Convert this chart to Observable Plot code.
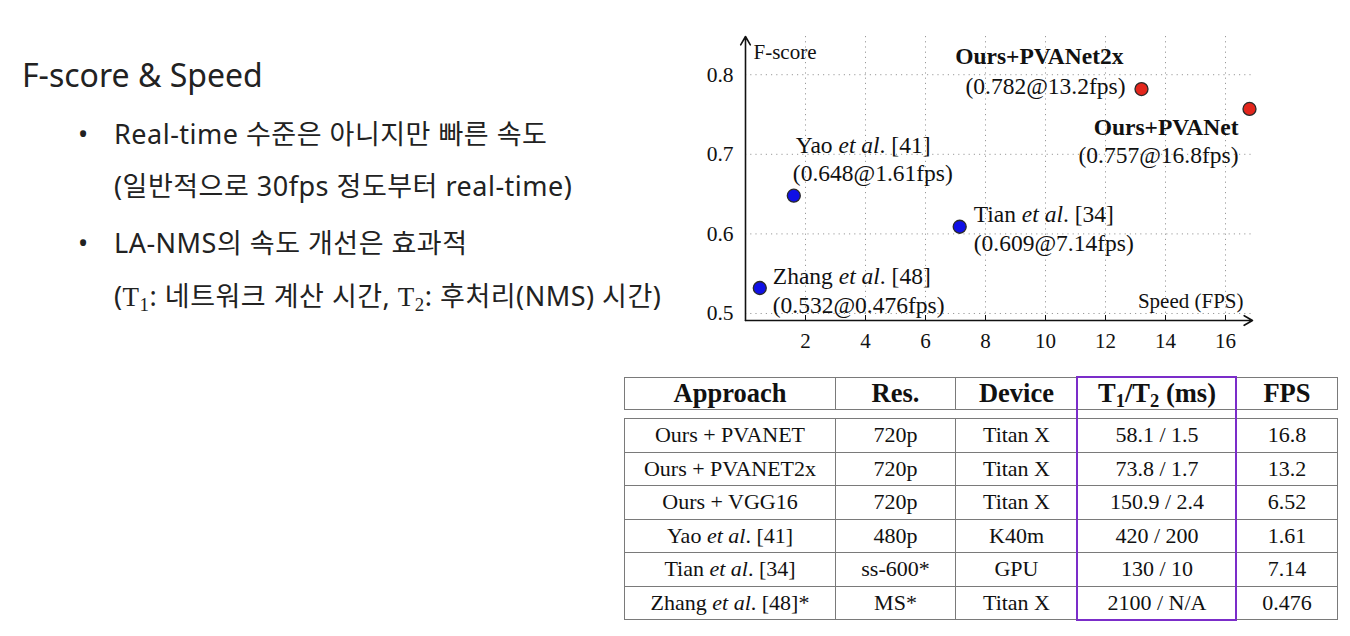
<!DOCTYPE html>
<html>
<head>
<meta charset="utf-8">
<script src="https://cdn.jsdelivr.net/npm/d3@7"></script>
<script src="https://cdn.jsdelivr.net/npm/@observablehq/plot@0.6"></script>
<style>
  html, body { margin: 0; padding: 0; background: #fff; width: 1350px; height: 636px; overflow: hidden; }
  .abs { position: absolute; white-space: nowrap; }
  .sans { font-family: "Noto Sans", "Noto Sans CJK KR", sans-serif; color: #222; }
  .title { left: 22px; top: 55px; font-size: 32px; line-height: 40px; }
  .bul { font-size: 27px; line-height: 34px; letter-spacing: 0.5px; }
  .serif { font-family: "Liberation Serif", serif; }
  .sb { font-size: 0.7em; vertical-align: baseline; position: relative; top: 0.28em; line-height: 0; }
  #chart { position: absolute; left: 690px; top: 30px; }
  table.t { position: absolute; border-collapse: collapse; font-family: "Liberation Serif", serif; color: #111; table-layout: fixed; }
  table.t td { border: 1.5px solid #7a7a7a; text-align: center; padding: 0; overflow: visible; white-space: nowrap; }
  #purple { position: absolute; left: 1076px; top: 376px; width: 157px; height: 241px; border: 2.5px solid #7b2dc9; }
</style>
</head>
<body>
<div class="abs sans title">F-score &amp; Speed</div>
<div id="bullets"></div>
<div id="chart"></div>
<div id="tables"></div>
<div id="purple"></div>
<script>
// ---------- chart data ----------
const methods = ["Ours+PVANet2x", "Ours+PVANet", "Tian et al. [34]", "Yao et al. [41]", "Zhang et al. [48]"];
const speeds = [13.2, 16.8, 7.14, 1.61, 0.476];
const fscores = [0.782, 0.757, 0.609, 0.648, 0.532];
const ours = [true, true, false, false, false];
const xTicks = [2, 4, 6, 8, 10, 12, 14, 16];
const yTicks = [0.5, 0.6, 0.7, 0.8];
const xDomain = [0, 16.9];
const yDomain = [0.4912, 0.848];
const xLabel = "Speed (FPS)";
const yLabel = "F-score";

// ---------- table data ----------
const tHeader = ["Approach", "Res.", "Device", "T<sub class='sb'>1</sub>/T<sub class='sb'>2</sub> (ms)", "FPS"];
const tApproach = ["Ours + PVANET", "Ours + PVANET2x", "Ours + VGG16", "Yao et al. [41]", "Tian et al. [34]", "Zhang et al. [48]*"];
const tRes = ["720p", "720p", "720p", "480p", "ss-600*", "MS*"];
const tDevice = ["Titan X", "Titan X", "Titan X", "K40m", "GPU", "Titan X"];
const tTimes = ["58.1 / 1.5", "73.8 / 1.7", "150.9 / 2.4", "420 / 200", "130 / 10", "2100 / N/A"];
const tFps = ["16.8", "13.2", "6.52", "1.61", "7.14", "0.476"];

// ---------- slide text ----------
const bulletLines = [
  {bullet: true, html: "Real-time 수준은 아니지만 빠른 속도"},
  {bullet: false, html: "(일반적으로 30fps 정도부터 real-time)"},
  {bullet: true, html: "LA-NMS의 속도 개선은 효과적"},
  {bullet: false, html: "(<span class='serif'>T<sub class='sb'>1</sub></span>: 네트워크 계산 시간, <span class='serif'>T<sub class='sb'>2</sub></span>: 후처리(NMS) 시간)"}
];
const bulletTops = [117, 169, 226, 279];

const bDiv = document.getElementById("bullets");
bulletLines.forEach((l, i) => {
  if (l.bullet) {
    const b = document.createElement("div");
    b.className = "abs sans bul";
    b.style.left = "78px"; b.style.top = bulletTops[i] + "px";
    b.textContent = "•";
    bDiv.appendChild(b);
  }
  const d = document.createElement("div");
  d.className = "abs sans bul";
  d.style.left = "114px"; d.style.top = bulletTops[i] + "px";
  d.innerHTML = l.html;
  bDiv.appendChild(d);
});

// ---------- chart ----------
const pts = methods.map((m, i) => ({name: m, speed: speeds[i], f: fscores[i], ours: ours[i],
  value: `(${fscores[i]}@${speeds[i]}fps)`}));
// label placement (pixel offsets from point)
const place = {
  "Ours+PVANet2x": {anchor: "end", dx1: -18, dy1: -33, dx2: -16, dy2: -3},
  "Ours+PVANet": {anchor: "end", dx1: -11, dy1: 19, dx2: -11, dy2: 47},
  "Tian et al. [34]": {anchor: "start", dx1: 14, dy1: -12, dx2: 14, dy2: 17},
  "Yao et al. [41]": {anchor: "start", dx1: 2, dy1: -50, dx2: -1, dy2: -22},
  "Zhang et al. [48]": {anchor: "start", dx1: 13, dy1: -12, dx2: 13, dy2: 17}
};
const labelMarks = [];
pts.forEach(p => {
  const c = place[p.name];
  labelMarks.push(Plot.text([p], {x: "speed", y: "f", text: "name", textAnchor: c.anchor, dx: c.dx1, dy: c.dy1,
    fontWeight: p.ours ? "bold" : "normal", fontSize: 23.5, fill: "#111"}));
  labelMarks.push(Plot.text([p], {x: "speed", y: "f", text: "value", textAnchor: c.anchor, dx: c.dx2, dy: c.dy2,
    fontSize: 23.5, fill: "#111"}));
});

const gridStyle = {stroke: "#9a9a9a", strokeOpacity: 1, strokeWidth: 1, strokeDasharray: "1.2,4"};
const chart = Plot.plot({
  width: 600,
  height: 320,
  marginLeft: 55,
  marginRight: 38,
  marginTop: 6,
  marginBottom: 30,
  x: {domain: xDomain, label: null},
  y: {domain: yDomain, label: null},
  style: {fontFamily: "Liberation Serif, serif", fontSize: "21px", background: "transparent", color: "#111", overflow: "visible"},
  marks: [
    Plot.gridX(xTicks, gridStyle),
    Plot.gridY(yTicks, gridStyle),
    Plot.axisX(xTicks, {tickSize: 5, dy: -5, tickFormat: () => "", stroke: "#111", label: null}),
    Plot.axisX(xTicks, {tickSize: 0, tickPadding: 13, tickFormat: d => String(d), fontSize: 21, label: null}),
    Plot.axisY(yTicks, {tickSize: 0, tickPadding: 12, tickFormat: d => d.toFixed(1), fontSize: 21.5, label: null}),
    Plot.arrow([0], {x1: xDomain[0], x2: xDomain[1], y1: yDomain[0], y2: yDomain[0], stroke: "#111", strokeWidth: 1.6, headLength: 9, bend: 0}),
    Plot.arrow([0], {x1: xDomain[0], x2: xDomain[0], y1: yDomain[0], y2: yDomain[1], stroke: "#111", strokeWidth: 1.6, headLength: 9, bend: 0}),
    Plot.text([yLabel], {x: xDomain[0], y: yDomain[1], text: d => d, textAnchor: "start", dx: 8, dy: 16, fontSize: 21, fill: "#111"}),
    Plot.text([xLabel], {x: xDomain[1], y: yDomain[0], text: d => d, textAnchor: "end", dx: -9, dy: -19, fontSize: 21, fill: "#111"}),
    ...labelMarks,
    Plot.dot(pts, {x: "speed", y: "f", r: 6.5, fill: d => d.ours ? "#e3261c" : "#1010e6", stroke: "#2a2a2a", strokeWidth: 1.3})
  ]
});
// italicize "et al."
chart.querySelectorAll("text").forEach(t => {
  const s = t.textContent;
  const k = s.indexOf("et al.");
  if (k >= 0 && t.children.length === 0) {
    t.textContent = "";
    const ns = "http://www.w3.org/2000/svg";
    const a = document.createElementNS(ns, "tspan"); a.textContent = s.slice(0, k);
    const b = document.createElementNS(ns, "tspan"); b.textContent = "et al"; b.setAttribute("font-style", "italic");
    const c = document.createElementNS(ns, "tspan"); c.textContent = s.slice(k + 5);
    t.append(a, b, c);
  }
});
document.getElementById("chart").appendChild(chart);

// ---------- table ----------
const colW = [211, 120, 122, 159, 101];
const etal = s => s.replace("et al.", "<i>et al</i>.");
function makeTable(rows, top, rowH, fontSize, bold) {
  const t = document.createElement("table");
  t.className = "t";
  t.style.left = "624px"; t.style.top = top + "px";
  t.style.width = colW.reduce((a, b) => a + b, 0) + "px";
  const cg = document.createElement("colgroup");
  colW.forEach(w => { const c = document.createElement("col"); c.style.width = w + "px"; cg.appendChild(c); });
  t.appendChild(cg);
  rows.forEach(r => {
    const tr = document.createElement("tr");
    r.forEach(v => {
      const td = document.createElement("td");
      td.style.height = rowH + "px";
      td.style.fontSize = fontSize + "px";
      td.style.lineHeight = rowH + "px";
      if (bold) td.style.fontWeight = "bold";
      td.innerHTML = v;
      tr.appendChild(td);
    });
    t.appendChild(tr);
  });
  document.getElementById("tables").appendChild(t);
}
makeTable([tHeader], 377, 31, 26.5, true);
makeTable(tApproach.map((a, i) => [etal(a), tRes[i], tDevice[i], tTimes[i], tFps[i]]), 418, 32.5, 22, false);
</script>
</body>
</html>
